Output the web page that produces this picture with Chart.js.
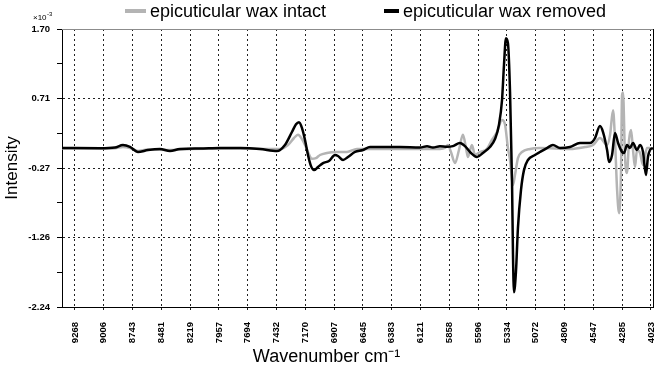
<!DOCTYPE html>
<html>
<head>
<meta charset="utf-8">
<script src="https://cdn.jsdelivr.net/npm/chart.js@4.4.1/dist/chart.umd.min.js"></script>
<style>
  html, body { margin: 0; padding: 0; background: #fff; }
  #wrap { width: 657px; height: 371px; }
</style>
</head>
<body>
<div id="wrap"><canvas id="chart" width="657" height="371"></canvas></div>
<script>
// ─── Данные (интенсивность в единицах 10^-3) ─────────────────────────────────

const seriesNames = ['epicuticular wax intact', 'epicuticular wax removed']
const seriesColors = ['#b4b4b4', '#000000']

const xTicks = [9268, 9006, 8743, 8481, 8219, 7957, 7694, 7432, 7170, 6907, 6645,
                6383, 6121, 5858, 5596, 5334, 5072, 4809, 4547, 4285, 4023]
const yTicks = [-2.24, -1.26, -0.27, 0.71, 1.70]

const intactWn = [9386, 9040, 8904, 8831, 8767, 8694, 8603, 8403, 8221, 7765, 7492, 7401,
                  7328, 7273, 7237, 7201, 7173, 7146, 7110, 7073, 7037, 6973, 6900, 6791,
                  6700, 6581, 5944, 5899, 5871, 5844, 5807, 5771, 5735, 5707, 5689, 5653,
                  5625, 5580, 5516, 5471, 5425, 5379, 5352, 5325, 5306, 5279, 5261, 5234,
                  5197, 5124, 5033, 4760, 4623, 4550, 4487, 4422, 4395, 4368, 4350, 4331,
                  4313, 4295, 4286, 4277, 4259, 4241, 4222, 4204, 4186, 4168, 4150, 4122,
                  4095, 4059, 4031, 4004]
const intactVal = [0.005, 0.005, 0.01, 0.028, 0.013, -0.03, -0.008, -0.015, 0, 0.006, 0, 0,
                   0.056, 0.155, 0.2, 0.14, 0.056, -0.043, -0.14, -0.13, -0.086, -0.057, -0.043, -0.043,
                   0, 0, 0, 0.013, 0.056, -0.043, -0.2, -0.015, 0.2, 0.013, -0.114, 0.056,
                   -0.086, -0.043, 0, 0.127, 0.24, 0.41, 0.35, 0.013, -0.157, -0.51, -0.37, -0.13,
                   -0.043, 0, 0.013, 0, 0.028, 0.056, 0.155, 0.056, 0.2, 0.55, 0.127, -0.58,
                   -0.91, -0.3, 0.76, 0.8, -0.114, -0.34, 0.127, 0.27, -0.015, -0.255, -0.015, -0.057,
                   -0.227, 0.013, 0.013, 0]

const removedWn = [9386, 9040, 8904, 8831, 8767, 8694, 8603, 8494, 8403, 8312, 8130, 7948,
                   7765, 7583, 7428, 7356, 7292, 7255, 7228, 7201, 7173, 7146, 7119, 7091,
                   7055, 7009, 6955, 6900, 6873, 6827, 6782, 6718, 6645, 6581, 6490, 6308,
                   6126, 6062, 6008, 5944, 5880, 5826, 5762, 5716, 5671, 5607, 5553, 5489,
                   5443, 5407, 5379, 5361, 5343, 5325, 5306, 5288, 5279, 5270, 5252, 5234,
                   5206, 5179, 5143, 5079, 5033, 4970, 4915, 4851, 4760, 4669, 4578, 4532,
                   4487, 4459, 4422, 4404, 4377, 4350, 4322, 4286, 4268, 4241, 4214, 4186,
                   4150, 4122, 4095, 4068, 4050, 4031, 4004]
const removedVal = [0.013, 0.01, 0.02, 0.056, 0.03, -0.043, -0.015, 0, -0.03, 0, 0.006, 0.013,
                    0.013, 0, -0.03, 0.056, 0.24, 0.35, 0.38, 0.30, 0.127, -0.086, -0.24, -0.30,
                    -0.256, -0.2, -0.17, -0.086, -0.1, -0.157, -0.114, -0.043, -0.015, 0.028, 0.028, 0.028,
                    0.02, 0.04, 0.02, 0.04, 0.03, 0.04, 0.085, 0.04, -0.043, -0.114, -0.057, 0.028,
                    0.14, 0.34, 0.69, 1.19, 1.57, 1.50, 0.81, -0.44, -1.5, -2.03, -1.74, -1.12,
                    -0.58, -0.3, -0.157, -0.086, -0.043, 0.013, 0.056, 0.013, 0.028, 0.085, 0.085, 0.155,
                    0.325, 0.24, -0.015, -0.185, -0.086, 0.226, 0.085, -0.043, -0.057, 0.056, 0.013, 0.085,
                    -0.015, 0.056, -0.043, -0.37, -0.114, -0.015, 0.013]

// ─── Настройки ────────────────────────────────────────────────────────────────

const FONT = '"Liberation Sans", Arial, sans-serif'
Chart.defaults.font.family = FONT
Chart.defaults.color = '#000'

const toPoints = (xs, ys) => xs.map((x, i) => ({ x, y: ys[i] }))

// легенда и множитель ×10^-3 рисуются вручную
const refLegend = {
    id: 'refLegend',
    afterDraw(chart) {
        const ctx = chart.ctx
        ctx.save()
        ctx.fillStyle = '#000'
        ctx.textBaseline = 'alphabetic'
        ctx.font = '8px ' + FONT
        ctx.fillText('×10', 33, 20)
        ctx.font = '6px ' + FONT
        ctx.fillText('-3', 47, 16)

        const spots = [{ x: 125, w: 21 }, { x: 384, w: 15 }]
        ctx.font = '18px ' + FONT
        ctx.textBaseline = 'middle'
        chart.data.datasets.forEach((ds, i) => {
            const s = spots[i]
            ctx.strokeStyle = ds.borderColor
            ctx.lineWidth = 4
            ctx.beginPath()
            ctx.moveTo(s.x, 11)
            ctx.lineTo(s.x + s.w, 11)
            ctx.stroke()
            ctx.fillStyle = '#000'
            ctx.fillText(ds.label, s.x + s.w + 4, 12)
        })
        ctx.restore()
    }
}

new Chart(document.getElementById('chart'), {
    type: 'line',
    data: {
        datasets: [
            {
                label: seriesNames[0],
                data: toPoints(intactWn, intactVal),
                borderColor: seriesColors[0],
                borderWidth: 2.5,
                order: 1,
            },
            {
                label: seriesNames[1],
                data: toPoints(removedWn, removedVal),
                borderColor: seriesColors[1],
                borderWidth: 2.5,
                order: 0,
            },
        ]
    },
    options: {
        responsive: false,
        animation: false,
        layout: { padding: { top: 29, right: 4, left: 0, bottom: 0 } },
        elements: {
            point: { radius: 0 },
            line: { cubicInterpolationMode: 'monotone', borderJoinStyle: 'round', fill: false },
        },
        plugins: {
            legend: { display: false },
            tooltip: { enabled: false },
            title: {
                display: true,
                position: 'bottom',
                text: 'Wavenumber cm⁻¹',
                color: '#000',
                font: { size: 18, weight: 'normal' },
                padding: { top: 0, bottom: 3 },
            },
        },
        scales: {
            x: {
                type: 'linear',
                reverse: true,
                min: 4004,
                max: 9386,
                bounds: 'data',
                afterBuildTicks: s => { s.ticks = xTicks.map(v => ({ value: v })) },
                afterFit: s => { s.height = 39.4; s.paddingLeft = 0; s.paddingRight = 0 },
                ticks: {
                    autoSkip: false,
                    minRotation: 90,
                    maxRotation: 90,
                    padding: 9,
                    font: { size: 9.5, weight: 'bold' },
                    callback: v => String(v),
                },
                grid: { color: '#222', tickColor: '#222', tickLength: 6, tickBorderDash: [2, 3] },
                border: { color: '#000', dash: [2, 3] },
            },
            y: {
                type: 'linear',
                min: -2.24,
                max: 1.70,
                bounds: 'data',
                afterBuildTicks: s => {
                    const t = []
                    yTicks.forEach((v, i) => {
                        t.push({ value: v })
                        if (i < yTicks.length - 1) t.push({ value: (v + yTicks[i + 1]) / 2 })
                    })
                    s.ticks = t
                },
                afterFit: s => { s.width = 62; s.paddingTop = 0; s.paddingBottom = 0 },
                ticks: {
                    autoSkip: false,
                    padding: 7,
                    font: { size: 9.5, weight: 'bold' },
                    callback: (v, i) => i % 2 ? '' : v.toFixed(2),
                },
                grid: {
                    color: c => (c.index % 2 || c.index === 0 || c.index === 8) ? 'rgba(0,0,0,0)' : '#222',
                    tickColor: '#000',
                    tickLength: 5,
                },
                border: { color: '#000', dash: [2, 3] },
                title: {
                    display: true,
                    text: 'Intensity',
                    color: '#000',
                    font: { size: 17 },
                    padding: { top: 2, bottom: 0 },
                },
            },
            xTop: {
                type: 'linear',
                position: 'top',
                ticks: { display: false },
                grid: { display: false, drawTicks: false },
                border: { color: '#8c8c8c' },
                afterFit: s => { s.height = 0 },
            },
            yRight: {
                type: 'linear',
                position: 'right',
                ticks: { display: false },
                grid: { display: false, drawTicks: false },
                border: { color: '#000' },
                afterFit: s => { s.width = 0 },
            },
        }
    },
    plugins: [refLegend],
})
</script>
</body>
</html>
